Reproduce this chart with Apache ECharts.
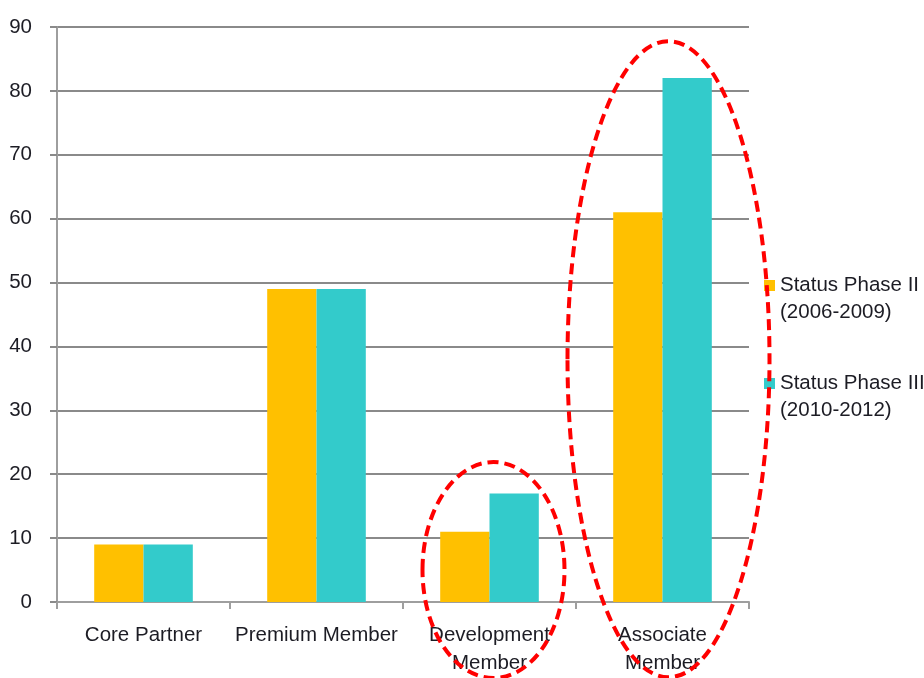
<!DOCTYPE html>
<html>
<head>
<meta charset="utf-8">
<script src="https://cdn.jsdelivr.net/npm/echarts@6/dist/echarts.min.js"></script>
<style>
  html, body { margin: 0; padding: 0; background: #ffffff; }
  #chart { width: 924px; height: 678px; }
</style>
</head>
<body>
<div id="chart"></div>
<script>
// Membership status counts per category
const categories = ['Core Partner', 'Premium Member', 'Development\nMember', 'Associate\nMember'];
const phase2Name = 'Status Phase II\n(2006-2009)';
const phase3Name = 'Status Phase III\n(2010-2012)';
const phase2Values = [9, 49, 11, 61];
const phase3Values = [9, 49, 17, 82];
const yMin = 0;
const yMax = 90;
const yStep = 10;

// Categories that get a dashed ring around them
const circledCategories = [2, 3];

const FONT = "'Liberation Sans', Arial, sans-serif";
const FONT_SIZE = 20.5;
const TEXT_COLOR = '#1c1c24';

const chart = echarts.init(document.getElementById('chart'), null, { renderer: 'canvas' });

chart.setOption({
  animation: false,
  backgroundColor: '#ffffff',
  grid: { left: 57, right: 175, top: 27, bottom: 76, containLabel: false },
  legend: {
    orient: 'vertical',
    left: 764,
    top: 245,
    padding: 0,
    itemWidth: 11,
    itemHeight: 11,
    itemGap: 17,
    icon: 'rect',
    // a leading blank line keeps the marker level with the first text line
    formatter: function (name) { return '\n' + name; },
    textStyle: {
      fontFamily: FONT,
      fontSize: FONT_SIZE,
      lineHeight: 27,
      color: TEXT_COLOR
    },
    data: [phase2Name, phase3Name]
  },
  xAxis: {
    type: 'category',
    data: categories,
    axisLine: { show: true, lineStyle: { color: '#9e9e9e', width: 2 } },
    axisTick: { show: true, length: 7, lineStyle: { color: '#9e9e9e', width: 2 } },
    axisLabel: {
      fontFamily: FONT,
      fontSize: FONT_SIZE,
      lineHeight: 28,
      color: TEXT_COLOR,
      margin: 19,
      interval: 0
    }
  },
  yAxis: {
    type: 'value',
    min: yMin,
    max: yMax,
    interval: yStep,
    axisLine: { show: true, lineStyle: { color: '#9e9e9e', width: 2 } },
    axisTick: { show: true, length: 7, lineStyle: { color: '#8a8a8a', width: 2 } },
    splitLine: { show: true, lineStyle: { color: '#8a8a8a', width: 2 } },
    axisLabel: {
      fontFamily: FONT,
      fontSize: FONT_SIZE,
      color: TEXT_COLOR,
      margin: 25
    }
  },
  series: [
    {
      name: phase2Name,
      type: 'bar',
      data: phase2Values,
      barGap: '0%',
      barCategoryGap: '43%',
      itemStyle: { color: '#FFC000' }
    },
    {
      name: phase3Name,
      type: 'bar',
      data: phase3Values,
      barGap: '0%',
      barCategoryGap: '43%',
      itemStyle: { color: '#33CBCB' }
    }
  ]
});

// Dashed red rings around the highlighted categories, centred on the axis positions
const ringSpecs = {
  2: { value: 5, dx: 4, rx: 71, ry: 108 },
  3: { value: 38, dx: 6, rx: 101, ry: 318 }
};
const rings = circledCategories.map(function (idx) {
  const spec = ringSpecs[idx];
  const p = chart.convertToPixel({ gridIndex: 0 }, [idx, spec.value]);
  return {
    type: 'ellipse',
    z: 100,
    shape: { cx: p[0] + spec.dx, cy: p[1], rx: spec.rx, ry: spec.ry },
    style: {
      fill: null,
      stroke: '#ff0000',
      lineWidth: 4,
      lineDash: [11, 6]
    },
    silent: true
  };
});
chart.setOption({ graphic: rings });
</script>
</body>
</html>
